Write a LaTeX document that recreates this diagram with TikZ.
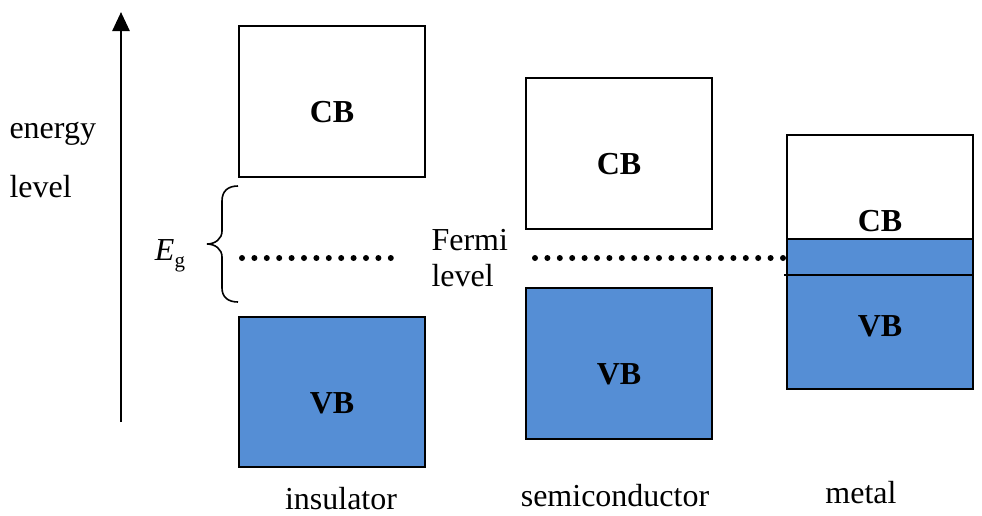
\documentclass[tikz,border=0pt]{standalone}
\usepackage{fontspec}
\setmainfont{Liberation Serif}
\usetikzlibrary{arrows.meta}
\definecolor{bandblue}{HTML}{558ED5}
\begin{document}
\begin{tikzpicture}[x=1pt,y=-1pt,
  every node/.style={font=\fontsize{32}{36}\selectfont},
  band/.style={draw=black,line width=2pt,minimum width=186pt,inner sep=0pt,anchor=north west},
  filled/.style={band,fill=bandblue},
  blab/.style={font=\fontsize{32}{36}\selectfont\bfseries},
  caption/.style={inner sep=1pt},
  fermi/.style={line width=6pt,line cap=round,dash pattern=on 0pt off 12.4pt}]
\useasboundingbox (0,0) rectangle (982,515);
% energy axis
\coordinate (axb) at (121,422);
\coordinate (axt) at (121,12);
\draw[line width=2.6pt,-{Triangle[width=17pt,length=19pt]}] (axb) -- (axt);
\node[anchor=west] (en) at (6,134) {energy};
\node[anchor=west] (lv) at (6,187) {level};
% Fermi dots
\coordinate (f1a) at (242,258);
\coordinate (f1b) at (402,258);
\coordinate (f2a) at (535,258);
\coordinate (f2b) at (980,258);
\draw[fermi] (f1a) -- (f1b);
\draw[fermi] (f2a) -- (f2b);
\node[align=left,anchor=west,font=\fontsize{32}{36}\selectfont] (fl) at (428,258) {Fermi\\level};
% insulator
\node[band,minimum height=151pt] (icb) at (238,25) {};
\node[blab] at ([yshift=-11pt]icb.center) {CB};
\node[filled,minimum height=150pt] (ivb) at (238,316) {};
\node[blab] at ([yshift=-11pt]ivb.center) {VB};
\node[caption] (il) at (341,499) {insulator};
% brace
\draw[line width=1.6pt] (238,186) .. controls (228,186) and (222,191) .. (222,201) -- (222,231) .. controls (222,239) and (215,244) .. (207,244) .. controls (215,244) and (222,249) .. (222,257) -- (222,288) .. controls (222,297) and (228,302) .. (238,302);
\node (eg) at (170,256) {\textit{E}\raisebox{-0.22em}{\fontsize{21}{24}\selectfont g}};
% semiconductor
\node[band,minimum height=151pt,fill=white] (scb) at (525,77) {};
\node[blab] at ([yshift=-11pt]scb.center) {CB};
\node[filled,minimum height=151pt] (svb) at (525,287) {};
\node[blab] at ([yshift=-11pt]svb.center) {VB};
\node[caption] (sl) at (615,496) {semiconductor};
% metal
\node[minimum width=186pt,minimum height=254pt,inner sep=0pt,outer sep=0pt,fill=white,anchor=north west] (mbox) at (787,135) {};
\fill[bandblue] (787,239) rectangle (973,389);
\draw[line width=2pt] (787,135) rectangle (973,389);
\draw[line width=2pt] (787,239) -- (973,239);
\coordinate (ml) at (784,275);
\coordinate (mr) at (973,275);
\draw[line width=2pt] (ml) -- (mr);
\node[blab] (mcb) at (880,221) {CB};
\node[blab] (mvb) at (880,326) {VB};
\node[caption] (mlab) at (861,493) {metal};
\end{tikzpicture}
\end{document}
